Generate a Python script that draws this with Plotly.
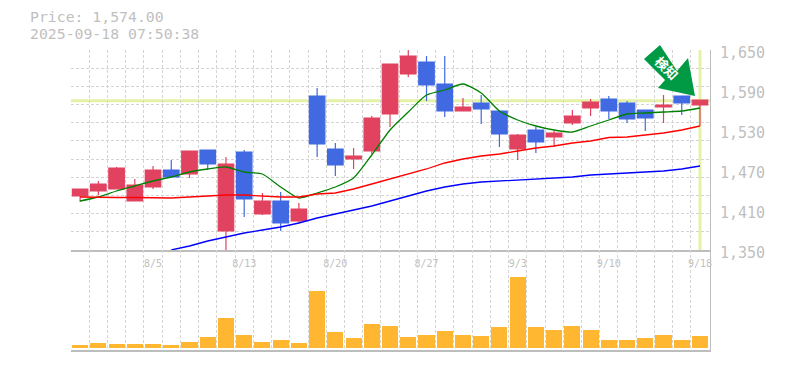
import plotly.graph_objects as go

dates = ["7/30","7/31","8/1","8/4","8/5","8/6","8/7","8/8","8/12","8/13","8/14","8/15","8/18","8/19","8/20",
         "8/21","8/22","8/25","8/26","8/27","8/28","8/29","9/1","9/2","9/3","9/4","9/5","9/8","9/9","9/10",
         "9/11","9/12","9/16","9/17","9/18"]
opens = [1431,1438.5,1441.5,1423.5,1444.5,1470,1464,1500,1378.5,1497,1404,1423.5,1393.5,1581,1501.5,
         1486.5,1498.5,1554,1614,1632,1599,1558.5,1570.5,1558.5,1501.5,1530,1519.5,1540.5,1563,1576.5,
         1570.5,1560,1564.5,1581,1567.5]
highs = [1441.5,1453.5,1474.5,1456.5,1476,1485,1498.5,1500,1489.5,1500,1435.5,1437,1420.5,1593,1510.5,
         1503,1551,1629,1650,1641,1641,1578,1582.5,1558.5,1524,1534.5,1528.5,1560,1576.5,1581,
         1573.5,1560,1582.5,1581,1575]
lows = [1422,1432.5,1441.5,1423.5,1441.5,1459.5,1458,1470,1348.5,1399.5,1402.5,1378.5,1390.5,1489.5,1461,
        1471.5,1494,1534.5,1609.5,1573.5,1549.5,1558.5,1539,1504.5,1485,1495.5,1504.5,1537.5,1551,1546.5,
        1540.5,1528.5,1540.5,1552.5,1536]
closes = [1441.5,1449,1473,1447.5,1470,1459.5,1498.5,1479,1479,1426.5,1423.5,1390.5,1411.5,1509,1477.5,
          1491,1548,1629,1641,1597.5,1558.5,1564.5,1561.5,1524,1522.5,1512,1525.5,1551,1572,1558.5,
          1546.5,1548,1567.5,1570.5,1575]
ma_short = [1423.5,1429.5,1438.5,1446,1453.5,1459.5,1467,1471.5,1474.5,1467,1464,1444.5,1428,1435.5,1444.5,
            1458,1492.5,1530,1557,1582.5,1590,1599,1585.5,1558.5,1545,1536,1530,1527,1536,1545,
            1554,1555.5,1557,1558.5,1563]
ma_mid = [1429.5,1428.75,1428.75,1428.75,1428,1428,1429.5,1431,1432.5,1432.5,1431,1429.5,1429.5,1434,1435.5,
          1441.5,1449,1456.5,1464,1471.5,1480.5,1486.5,1491,1494,1498.5,1503,1506,1510.5,1513.5,1518.75,
          1519.5,1522.5,1525.5,1530,1536]
ma_long = [None,None,None,None,None,1350,1356,1363.5,1369.5,1375.5,1380,1384.5,1390.5,1398,1404,
           1410,1416,1423.5,1431,1438.5,1444.5,1449,1452,1453.5,1455,1456.5,1458,1459.5,1462.5,1464,
           1465.5,1467,1468.5,1471.5,1476]
volumes = [3,5,4,4,4,3,6,11,30,13,6,8,5,57,16,10,24,22,11,13,17,13,12,21,71,21,18,22,18,8,8,10,13,8,12]
tick_labels = ["8/5","8/13","8/20","8/27","9/3","9/10","9/18"]
price_ticks = [1350,1410,1470,1530,1590,1650]
current_price = 1574

MONO = "DejaVu Sans Mono"
GRID = "#d4d4d4"
AXIS = "#bdbdbd"
TEXT = "#bfbfbf"
HILITE = "#e3f2a6"
UP = "#e04260"
DOWN = "#4169e1"

xs = list(range(len(dates)))
tick_idx = [dates.index(d) for d in tick_labels]
price_lo, price_hi = min(price_ticks), max(price_ticks)

W, H = 785, 370
L, R, T, B = 71, 710, 50, 350
def px(x): return (x - L) / (R - L)
def py(y): return 1 - (y - T) / (B - T)

fig = go.Figure()
fig.add_trace(go.Candlestick(x=xs, open=opens, high=highs, low=lows, close=closes,
    increasing=dict(line=dict(color=UP, width=1.2), fillcolor=UP),
    decreasing=dict(line=dict(color=DOWN, width=1.2), fillcolor=DOWN),
    whiskerwidth=0, showlegend=False, xaxis="x", yaxis="y"))
for vals, col, shp in ((ma_short, "#008000", "spline"), (ma_mid, "#ff0000", "linear"), (ma_long, "#0000ff", "linear")):
    fig.add_trace(go.Scatter(x=xs, y=vals, mode="lines", line=dict(color=col, width=1.3, shape=shp, smoothing=0.6),
                             showlegend=False, xaxis="x", yaxis="y"))
fig.add_trace(go.Bar(x=xs, y=volumes, marker=dict(color="#ffb732", line=dict(width=0)), width=0.88,
                     showlegend=False, xaxis="x2", yaxis="y2"))

xgrid = dict(showgrid=False, range=[-0.5, 34.55], zeroline=False, automargin=False,
             minor=dict(tickmode="linear", tick0=-0.5, dtick=1, showgrid=True, gridcolor=GRID,
                        griddash="3px,2px", gridwidth=1, ticks=""))
fig.update_layout(
    width=W, height=H, autosize=False, margin=dict(l=L, r=W - R, t=T, b=H - B, pad=0, autoexpand=False),
    paper_bgcolor="white", plot_bgcolor="white", boxgap=0.15, boxgroupgap=0, bargap=0,
    showlegend=False,
    xaxis=dict(xgrid, domain=[0, 1], anchor="y", rangeslider=dict(visible=False),
               tickmode="array", tickvals=tick_idx, ticktext=tick_labels, ticks="",
               tickfont=dict(family=MONO, size=10, color=TEXT),
               showline=True, linecolor=AXIS, linewidth=1.5, ticklabelstandoff=3),
    xaxis2=dict(xgrid, domain=[0, 1], anchor="y2", showticklabels=False, ticks="",
                showline=True, linecolor=AXIS, linewidth=1.5),
    yaxis=dict(domain=[1/3, 1], range=[price_lo, price_hi], side="right", anchor="x", automargin=False,
               tickmode="array", tickvals=price_ticks,
               ticktext=[f"{v:,}" for v in price_ticks], ticks="", showgrid=False, zeroline=False,
               tickfont=dict(family=MONO, size=15, color=TEXT), ticklabelstandoff=6, ticklabelshift=3,
               showline=True, linecolor=AXIS, linewidth=1,
               minor=dict(tickmode="linear", tick0=price_lo, dtick=(price_hi - price_lo) / 11,
                          showgrid=True, gridcolor=GRID, griddash="3px,2px", gridwidth=1, ticks="")),
    yaxis2=dict(domain=[0, 1/3], range=[-2, 98], side="right", anchor="x2", showticklabels=False, automargin=False,
                ticks="", showgrid=False, zeroline=False, showline=True, linecolor=AXIS, linewidth=1),
    shapes=[
        dict(type="line", xref="paper", yref="y", x0=0, x1=1, y0=current_price, y1=current_price,
             line=dict(color=HILITE, width=3), layer="below"),
        dict(type="line", xref="x", yref="y", x0=len(dates) - 1, x1=len(dates) - 1, y0=price_lo, y1=price_hi,
             line=dict(color=HILITE, width=3), layer="below"),
        dict(type="path", xref="paper", yref="paper", fillcolor="#009944", line=dict(width=0), layer="above",
             path="M " + " L ".join(f"{px(a):.4f},{py(b):.4f}" for a, b in
                  [(660, 45), (644, 59), (665, 80), (658, 88), (695, 96), (688, 58), (677, 71)]) + " Z"),
    ],
    annotations=[
        dict(text="Price: 1,574.00", xref="paper", yref="paper", x=px(28), y=py(16), xanchor="left",
             yanchor="middle", showarrow=False, font=dict(family=MONO, size=14.8, color=TEXT)),
        dict(text="2025-09-18 07:50:38", xref="paper", yref="paper", x=px(28), y=py(33.5), xanchor="left",
             yanchor="middle", showarrow=False, font=dict(family=MONO, size=14.8, color=TEXT)),
        dict(text="<b>検知</b>", xref="paper", yref="paper", x=px(666.5), y=py(67.5), xanchor="center",
             yanchor="middle", showarrow=False, textangle=45,
             font=dict(family="Noto Sans CJK JP", size=13, color="white")),
    ],
)
fig.write_html("out.html", config=dict(displayModeBar=False),
               post_script="document.body.style.margin='0';")
